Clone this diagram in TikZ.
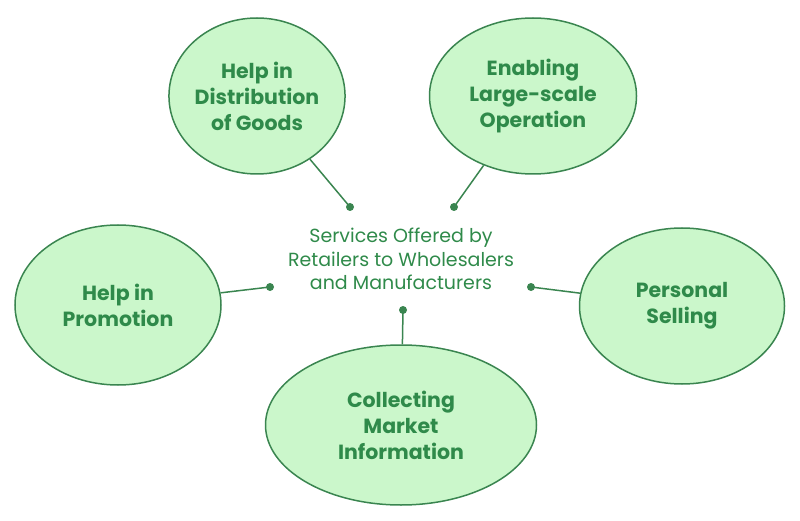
\documentclass[tikz,border=0pt]{standalone}
\usepackage{fontspec}
\setmainfont{Poppins}
\usetikzlibrary{shapes.geometric}
\definecolor{efill}{HTML}{CBF7CB}
\definecolor{estroke}{HTML}{3A8550}
\definecolor{etext}{HTML}{2F8A4A}
\tikzset{
  bubble/.style={ellipse, draw=estroke, line width=1.5pt, fill=efill, inner sep=0pt,
    text=etext, font=\fontsize{20.5}{26}\selectfont\bfseries, align=center},
  dotn/.style={circle, fill=estroke, inner sep=0pt, minimum size=8pt},
  conn/.style={draw=estroke, line width=1.5pt},
  centre/.style={text=etext, font=\fontsize{19}{23.5}\selectfont, align=center}
}
\begin{document}
\begin{tikzpicture}[x=1pt,y=-1pt]
\useasboundingbox (0,0) rectangle (800,521);
\node[bubble, minimum width=171pt, minimum height=156pt] (tl) at (257,96) {Help in\\Distribution\\of Goods};
\node[bubble, minimum width=207pt, minimum height=156pt] (tr) at (533,96) {Enabling\\Large-scale\\Operation};
\node[bubble, minimum width=206pt, minimum height=160pt] (lf) at (118,305) {Help in\\Promotion};
\node[bubble, minimum width=205pt, minimum height=156pt] (rt) at (682,306) {Personal\\Selling};
\node[bubble, minimum width=271pt, minimum height=160pt] (bt) at (401,425) {Collecting\\Market\\Information};
\node[centre] (c) at (401,259) {Services Offered by\\Retailers to Wholesalers\\and Manufacturers};
\node[dotn] (d1) at (350,207) {};
\node[dotn] (d2) at (454,207) {};
\node[dotn] (d3) at (270,287) {};
\node[dotn] (d4) at (531,287) {};
\node[dotn] (d5) at (403,310) {};
\draw[conn] (tl) -- (d1.center);
\draw[conn] (tr) -- (d2.center);
\draw[conn] (lf) -- (d3.center);
\draw[conn] (rt) -- (d4.center);
\draw[conn] (bt) -- (d5.center);
\end{tikzpicture}
\end{document}
